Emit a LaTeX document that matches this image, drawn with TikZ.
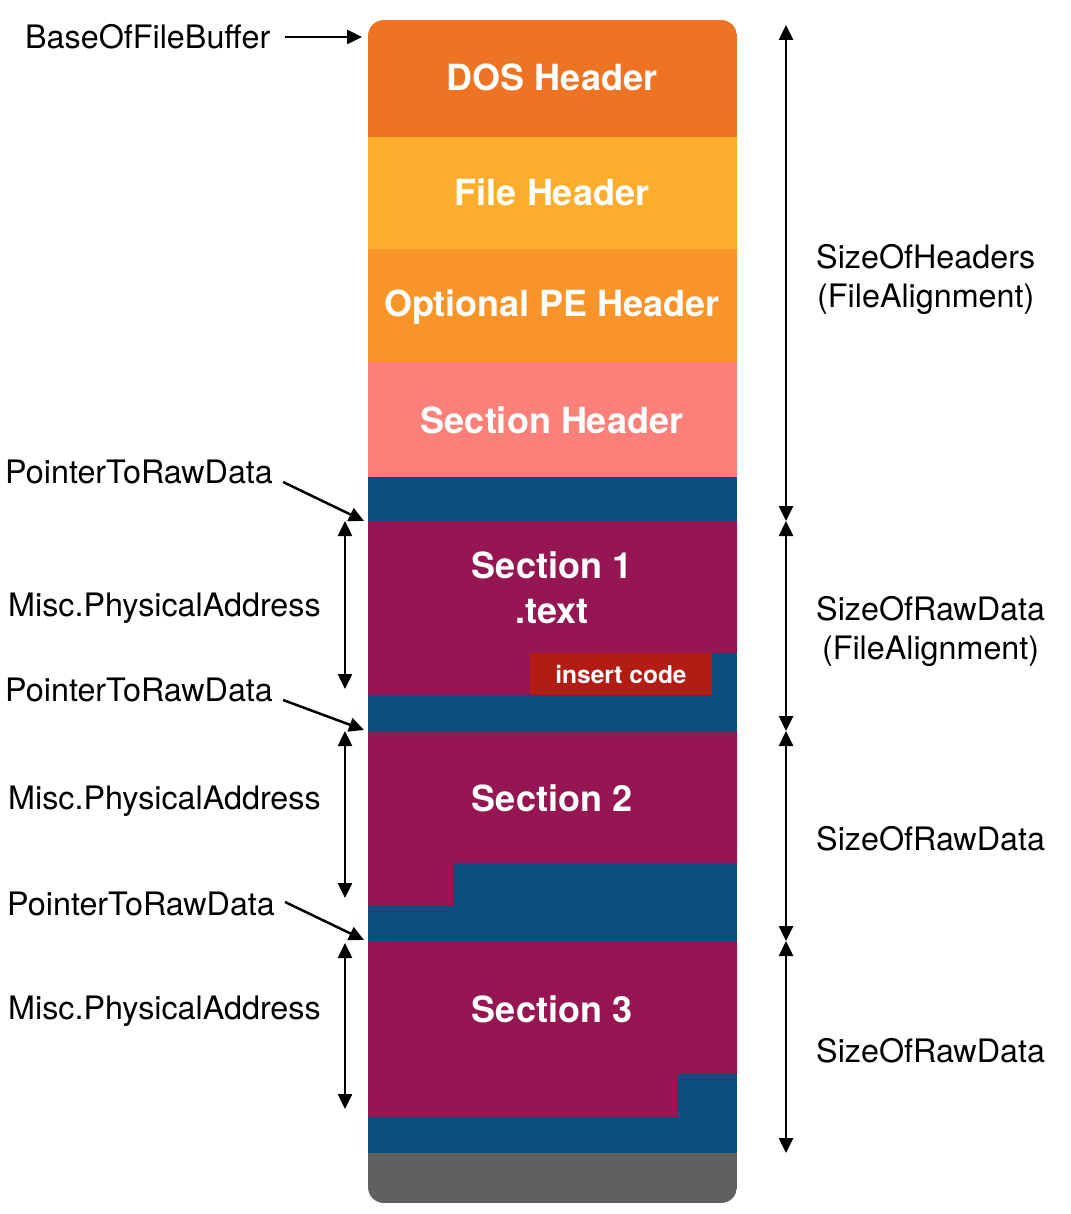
\documentclass[tikz,border=0pt]{standalone}
\usepackage{fontspec}
\setmainfont{TeX Gyre Heros}
\usetikzlibrary{arrows.meta}

\definecolor{dosc}{HTML}{EE7322}
\definecolor{filec}{HTML}{FBAD2B}
\definecolor{optc}{HTML}{F99429}
\definecolor{shdrc}{HTML}{FC807A}
\definecolor{padc}{HTML}{0B4F7F}
\definecolor{secc}{HTML}{951652}
\definecolor{codec}{HTML}{B21C12}
\definecolor{endc}{HTML}{606060}

\tikzset{
  lbl/.style={font=\fontsize{32.3}{39}\selectfont, align=center, inner sep=0pt},
  blk/.style={text=white, font=\fontsize{36}{45}\bfseries\selectfont, align=center, inner sep=0pt},
  tip/.tip={Triangle[length=15pt,width=14pt]},
  arr/.style={line width=2.5pt, -tip},
  dbl/.style={line width=2.5pt, tip-tip},
}

\begin{document}
\begin{tikzpicture}[x=1pt, y=-1pt]
\useasboundingbox (0,0) rectangle (1070,1214);

\begin{scope}
\clip[rounded corners=16] (368,20) rectangle (737,1203);
\fill[dosc]  (368,20)  rectangle (737,137);
\fill[filec] (368,137) rectangle (737,249);
\fill[optc]  (368,249) rectangle (737,362);
\fill[shdrc] (368,362) rectangle (737,477);
\fill[padc]  (368,477) rectangle (737,1153);
\fill[secc]  (368,521) -- (737,521) -- (737,653) -- (530,653) -- (530,695) -- (368,695) -- cycle; %sec1
\fill[secc]  (368,731) -- (737,731) -- (737,863) -- (454,863) -- (454,906) -- (368,906) -- cycle; %sec2
\fill[secc]  (368,942) -- (737,942) -- (737,1074) -- (678,1074) -- (678,1117) -- (368,1117) -- cycle; %sec3
\fill[endc]  (368,1153) rectangle (737,1203);
\end{scope}

\node[blk] (dos)  at (552,77)  {DOS Header};
\node[blk] (fhdr) at (552,192) {File Header};
\node[blk] (opt)  at (552,307) {Optional PE Header};
\node[blk] (shdr) at (552,420) {Section Header};
\node[blk] (sec1) at (552,588) {Section 1\\.text};
\node[blk, fill=codec, font=\fontsize{24.5}{30}\bfseries\selectfont,
      minimum width=182pt, minimum height=42pt] (code) at (621,674) {insert code};
\node[blk] (sec2) at (552,798) {Section 2};
\node[blk] (sec3) at (552,1009) {Section 3};

\node[lbl, anchor=west] (base) at (25,37) {BaseOfFileBuffer};
\node[lbl, anchor=west] (ptr1) at (5,472) {PointerToRawData};
\node[lbl, anchor=west] (ptr2) at (5,690) {PointerToRawData};
\node[lbl, anchor=west] (ptr3) at (7,904) {PointerToRawData};
\node[lbl, anchor=west] (misc1) at (8,608) {Misc.PhysicalAddress};
\node[lbl, anchor=west] (misc2) at (8,801) {Misc.PhysicalAddress};
\node[lbl, anchor=west] (misc3) at (8,1011) {Misc.PhysicalAddress};
\node[lbl, anchor=west] (hsize) at (816,279) {SizeOfHeaders\\(FileAlignment)};
\node[lbl, anchor=west] (rsize1) at (816,631) {SizeOfRawData\\(FileAlignment)};
\node[lbl, anchor=west] (rsize2) at (816,839) {SizeOfRawData};
\node[lbl, anchor=west] (rsize3) at (816,1051) {SizeOfRawData};

\coordinate (top) at (362,37);
\coordinate (s1) at (364,521);
\coordinate (s2) at (364,730);
\coordinate (s3) at (364,940);
\coordinate (r0) at (786,25);
\coordinate (r1) at (786,521);
\coordinate (r2) at (786,731);
\coordinate (r3) at (786,941);
\coordinate (r4) at (786,1153);
\coordinate (m1a) at (345,521);
\coordinate (m1b) at (345,689);
\coordinate (m2a) at (345,731);
\coordinate (m2b) at (345,898);
\coordinate (m3a) at (345,943);
\coordinate (m3b) at (345,1109);

\draw[arr] ([xshift=14pt]base.east) -- (top);
\draw[arr] ([shift={(10,10)}]ptr1.east) -- (s1);
\draw[arr] ([shift={(10,10)}]ptr2.east) -- (s2);
\draw[arr] ([shift={(10,-2)}]ptr3.east) -- (s3);

\draw[dbl] (r0) -- (r1);
\draw[dbl] (r1) -- (r2);
\draw[dbl] (r2) -- (r3);
\draw[dbl] (r3) -- (r4);

\draw[dbl] (m1a) -- (m1b);
\draw[dbl] (m2a) -- (m2b);
\draw[dbl] (m3a) -- (m3b);

\end{tikzpicture}
\end{document}
